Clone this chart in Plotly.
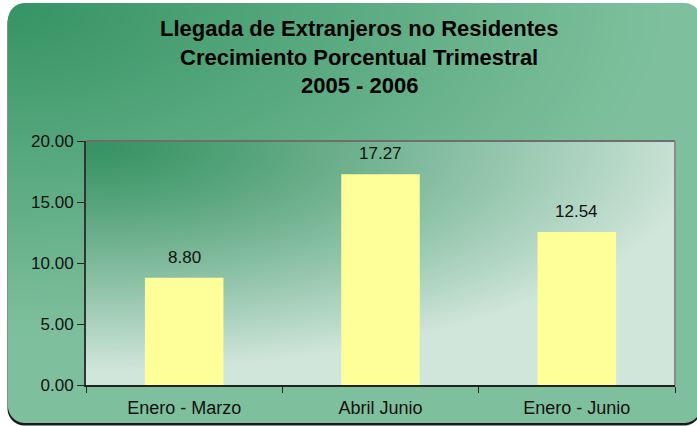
import base64, struct, zlib
import numpy as np
import plotly.graph_objects as go

# ---- data ----
categories = ["Enero - Marzo", "Abril Junio", "Enero - Junio"]
values = [8.80, 17.27, 12.54]
title_lines = ["Llegada de Extranjeros no Residentes",
               "Crecimiento Porcentual Trimestral",
               "2005 - 2006"]
y_ticks = [0, 5, 10, 15, 20]

# ---- canvas geometry ----
W, H = 697, 426
ML, MR, MT, MB = 86, 22, 141, 41
PW, PH = W - ML - MR, H - MT - MB


def png_uri(rgb):
    h, w, _ = rgb.shape
    raw = b"".join(b"\x00" + rgb[i].tobytes() for i in range(h))

    def chunk(tag, data):
        c = struct.pack(">I", len(data)) + tag + data
        return c + struct.pack(">I", zlib.crc32(tag + data) & 0xffffffff)

    png = (b"\x89PNG\r\n\x1a\n"
           + chunk(b"IHDR", struct.pack(">IIBBBBB", w, h, 8, 2, 0, 0, 0))
           + chunk(b"IDAT", zlib.compress(raw, 9))
           + chunk(b"IEND", b""))
    return "data:image/png;base64," + base64.b64encode(png).decode()


def rrect_alpha(xx, yy, x0, y0, x1, y1, r):
    dx = np.maximum(np.maximum(x0 + r - xx, xx - (x1 - r)), 0)
    dy = np.maximum(np.maximum(y0 + r - yy, yy - (y1 - r)), 0)
    d = np.sqrt(dx ** 2 + dy ** 2) - r
    ex = np.maximum(np.maximum(x0 - xx, xx - x1), np.maximum(y0 - yy, yy - y1))
    d = np.maximum(d, ex)
    return np.clip(0.5 - d, 0, 1)


yy, xx = np.mgrid[0:H, 0:W].astype(float) + 0.5
img = np.ones((H, W, 3)) * 255.0

# shadow (down-left)
a = rrect_alpha(xx, yy, 7.5, 6, 701, 425.5, 17)[..., None]
img = img * (1 - a) + np.array([25, 25, 25]) * a

# outer panel gradient
c0 = np.array([54, 148, 100.0])
c1 = np.array([126, 192, 157.0])
t = np.clip(np.sqrt(((xx - 10) / 650) ** 2 + ((yy - 5) / 330) ** 2), 0, 1)[..., None]
outer = c0 + (c1 - c0) * t
a = rrect_alpha(xx, yy, 8, 3, 701, 423, 17)[..., None]
img = img * (1 - a) + outer * a

# plot-area gradient
p0 = np.array([56, 148, 100.0])
p1 = np.array([208, 230, 219.0])
t = np.clip(np.sqrt(((xx - 95) / 610) ** 2 + ((yy - 145) / 225) ** 2), 0, 1)
t = (t ** 1.2)[..., None]
inner = p0 + (p1 - p0) * t
m = ((xx >= ML) & (xx <= ML + PW) & (yy >= MT) & (yy <= MT + PH))[..., None]
img = np.where(m, inner, img)

bg_uri = png_uri(np.clip(img, 0, 255).astype(np.uint8))

fig = go.Figure()
fig.add_trace(go.Bar(
    x=categories, y=values, width=0.4,
    marker=dict(color="#FFFF99", line=dict(width=0)),
    hoverinfo="skip",
))

# value labels
for c, v in zip(categories, values):
    fig.add_annotation(x=c, y=v, text=f"{v:.2f}", showarrow=False,
                       yanchor="bottom", yshift=9,
                       font=dict(family="Liberation Sans, Arial", size=17, color="#111111"))

# title lines
title_y_px = [29, 57, 85]
for line, py in zip(title_lines, title_y_px):
    fig.add_annotation(xref="paper", yref="paper", x=(359 - ML) / PW,
                       y=(MT + PH - py) / PH, text=f"<b>{line}</b>",
                       showarrow=False, xanchor="center", yanchor="middle",
                       font=dict(family="Liberation Sans, Arial", size=22, color="#000000"))

# top/right plot border (gray)
fig.add_shape(type="line", xref="paper", yref="paper", x0=0, x1=1, y0=1, y1=1,
              line=dict(color="#6e6e6e", width=2))
fig.add_shape(type="line", xref="paper", yref="paper", x0=1, x1=1, y0=0, y1=1,
              line=dict(color="#8a8a8a", width=2))

fig.add_layout_image(dict(
    source=bg_uri, xref="paper", yref="paper",
    x=-ML / PW, y=1 + MT / PH, sizex=W / PW, sizey=H / PH,
    xanchor="left", yanchor="top", sizing="stretch", layer="below",
))

fig.update_layout(
    width=W, height=H,
    margin=dict(l=ML, r=MR, t=MT, b=MB, pad=0, autoexpand=False),
    paper_bgcolor="white", plot_bgcolor="rgba(0,0,0,0)",
    showlegend=False, bargap=0.6,
    font=dict(family="Liberation Sans, Arial", size=17, color="#111111"),
)
fig.update_xaxes(
    type="category", tickson="boundaries", ticks="outside", ticklen=6,
    tickcolor="#222222", showline=True, linecolor="#222222", linewidth=1.5,
    showgrid=False, tickfont=dict(size=18, color="#111111"),
    ticklabelstandoff=6, automargin=False,
)
fig.update_yaxes(
    range=[0, 20], tickvals=y_ticks, tickformat=".2f", ticks="outside",
    ticklen=7, tickcolor="#222222", showline=True, linecolor="#333333",
    linewidth=2, showgrid=False, zeroline=False, automargin=False,
    tickfont=dict(size=17, color="#111111"),
)

fig.write_html("out.html", config={"displayModeBar": False},
               post_script="document.body.style.margin='0';")
